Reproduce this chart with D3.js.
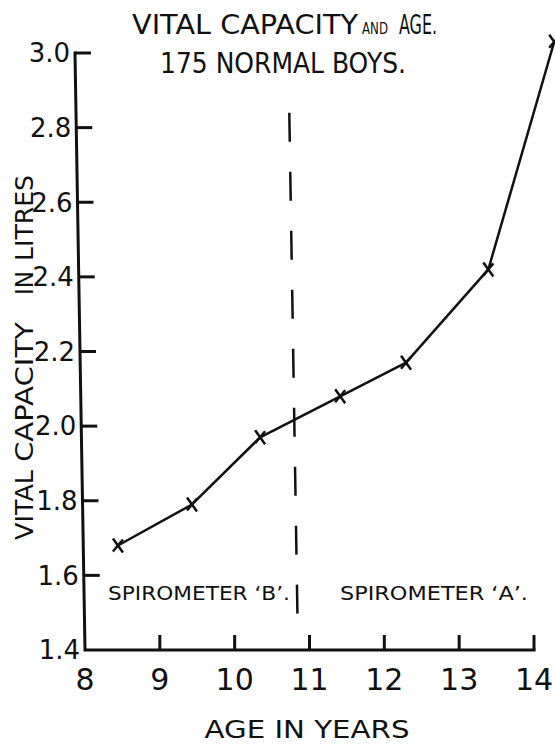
<!DOCTYPE html>
<meta charset="utf-8">
<html>
<style>
	body { margin: 0; background: #fff; }
	text { font-family: "DejaVu Sans", sans-serif; fill: #111; }
	.axis-line { fill: none; stroke: #111; stroke-width: 3px; stroke-linecap: square; }
	.tick { stroke: #111; stroke-width: 3px; }
	.vc-line { fill: none; stroke: #111; stroke-width: 2.5px; stroke-linejoin: round; }
	.marker { stroke: #111; stroke-width: 2.5px; }
	.divider { stroke: #111; stroke-width: 2.5px; stroke-dasharray: 29, 30; }
</style>

<body>
	<script src="https://cdnjs.cloudflare.com/ajax/libs/d3/7.8.5/d3.min.js"></script>
	<script type="text/javascript">
		// data
		var ages = [8.44, 9.43, 10.34, 11.41, 12.29, 13.39, 14.27];
		var capacity = [1.68, 1.79, 1.97, 2.08, 2.17, 2.42, 3.03];
		var xTicks = [8, 9, 10, 11, 12, 13, 14];
		var yTicks = [1.4, 1.6, 1.8, 2.0, 2.2, 2.4, 2.6, 2.8, 3.0];
		var yTickLabels = ["1.4", "1.6", "1.8", "2.0", "2.2", "2.4", "2.6", "2.8", "3.0"];
		// where spirometer "B" was replaced by "A" (line is drawn slightly slanted)
		var dividerAge = [10.73, 10.84];
		var dividerVal = [2.84, 1.48];
		var regionLabels = ["SPIROMETER \u2018B\u2019.", "SPIROMETER \u2018A\u2019."];

		var width = 555,
			height = 745;

		var svg = d3.select("body")
			.append("svg")
			.attr("width", width)
			.attr("height", height);

		var x = d3.scaleLinear().domain([8, 14]).range([85, 534]);
		var y = d3.scaleLinear().domain([1.4, 3.0]).range([650, 53]);

		// hand drawn y axis leans a little to the left towards the top
		function axisX(v) {
			return x(8) - (y(1.4) - y(v)) * 10 / (y(1.4) - y(3.0));
		}

		// titles (first line lettered in three pieces, "AND" smaller)
		var titleBits = [
			{ t: "VITAL CAPACITY", x: 132, len: 226, size: 27 },
			{ t: "AND", x: 362, len: 26, size: 16 },
			{ t: "AGE.", x: 399, len: 38, size: 27 }
		];
		svg.selectAll(".title")
			.data(titleBits)
			.enter().append("text")
			.attr("x", function (d) { return d.x; })
			.attr("y", 34)
			.attr("font-size", function (d) { return d.size; })
			.attr("textLength", function (d) { return d.len; })
			.attr("lengthAdjust", "spacingAndGlyphs")
			.text(function (d) { return d.t; });

		svg.append("text")
			.attr("x", 283).attr("y", 73)
			.attr("text-anchor", "middle")
			.attr("font-size", 28)
			.attr("textLength", 246)
			.attr("lengthAdjust", "spacingAndGlyphs")
			.text("175  NORMAL  BOYS.");

		// axes
		svg.append("path")
			.attr("class", "axis-line")
			.attr("d", "M" + x(14) + "," + y(1.4) + "L" + x(8) + "," + y(1.4)
				+ "L" + axisX(3.0) + "," + y(3.0));

		svg.selectAll(".ytick")
			.data(yTicks.slice(1))
			.enter().append("line")
			.attr("class", "tick")
			.attr("x1", function (d) { return axisX(d); })
			.attr("x2", function (d) { return axisX(d) + 16; })
			.attr("y1", function (d) { return y(d); })
			.attr("y2", function (d) { return y(d); });

		svg.selectAll(".xtick")
			.data(xTicks.slice(1))
			.enter().append("line")
			.attr("class", "tick")
			.attr("x1", function (d) { return x(d); })
			.attr("x2", function (d) { return x(d); })
			.attr("y1", y(1.4))
			.attr("y2", y(1.4) - 15);

		svg.selectAll(".ylabel")
			.data(yTicks)
			.enter().append("text")
			.attr("x", function (d) { return axisX(d) - 5; })
			.attr("y", function (d) { return y(d); })
			.attr("dy", "0.36em")
			.attr("text-anchor", "end")
			.attr("font-size", 26)
			.text(function (d, i) { return yTickLabels[i]; });

		svg.selectAll(".xlabel")
			.data(xTicks)
			.enter().append("text")
			.attr("x", function (d) { return x(d); })
			.attr("y", 690)
			.attr("text-anchor", "middle")
			.attr("font-size", 30)
			.text(function (d) { return d; });

		svg.append("text")
			.attr("x", 307).attr("y", 738)
			.attr("text-anchor", "middle")
			.attr("font-size", 25)
			.attr("textLength", 205)
			.attr("lengthAdjust", "spacingAndGlyphs")
			.text("AGE  IN  YEARS");

		// y axis title, word by word as lettered
		var yWords = [
			{ t: "VITAL", c: 505, len: 70 },
			{ t: "CAPACITY", c: 392, len: 140 },
			{ t: "IN", c: 283, len: 24 },
			{ t: "LITRES", c: 218, len: 86 }
		];
		svg.selectAll(".ytitle")
			.data(yWords)
			.enter().append("text")
			.attr("transform", function (d) { return "translate(33," + d.c + ") rotate(-90)"; })
			.attr("text-anchor", "middle")
			.attr("font-size", 24)
			.attr("textLength", function (d) { return d.len; })
			.attr("lengthAdjust", "spacingAndGlyphs")
			.text(function (d) { return d.t; });

		// divider between the two spirometers
		svg.append("line")
			.attr("class", "divider")
			.attr("x1", x(dividerAge[0])).attr("y1", y(dividerVal[0]))
			.attr("x2", x(dividerAge[1])).attr("y2", y(dividerVal[1]));

		svg.append("text")
			.attr("x", 108).attr("y", 600)
			.attr("font-size", 19)
			.attr("textLength", 182)
			.attr("lengthAdjust", "spacingAndGlyphs")
			.text(regionLabels[0]);
		svg.append("text")
			.attr("x", 340).attr("y", 600)
			.attr("font-size", 19)
			.attr("textLength", 188)
			.attr("lengthAdjust", "spacingAndGlyphs")
			.text(regionLabels[1]);

		// the curve
		var points = ages.map(function (a, i) { return [a, capacity[i]]; });
		var line = d3.line()
			.x(function (d) { return x(d[0]); })
			.y(function (d) { return y(d[1]); });

		svg.append("path")
			.datum(points)
			.attr("class", "vc-line")
			.attr("d", line);

		var mk = svg.selectAll(".mk")
			.data(points)
			.enter().append("g")
			.attr("transform", function (d) { return "translate(" + x(d[0]) + "," + y(d[1]) + ")"; });
		mk.append("line").attr("class", "marker")
			.attr("x1", -5).attr("y1", -7).attr("x2", 5).attr("y2", 7);
		mk.append("line").attr("class", "marker")
			.attr("x1", -5).attr("y1", 6).attr("x2", 5).attr("y2", -6);
	</script>
</body>

</html>
